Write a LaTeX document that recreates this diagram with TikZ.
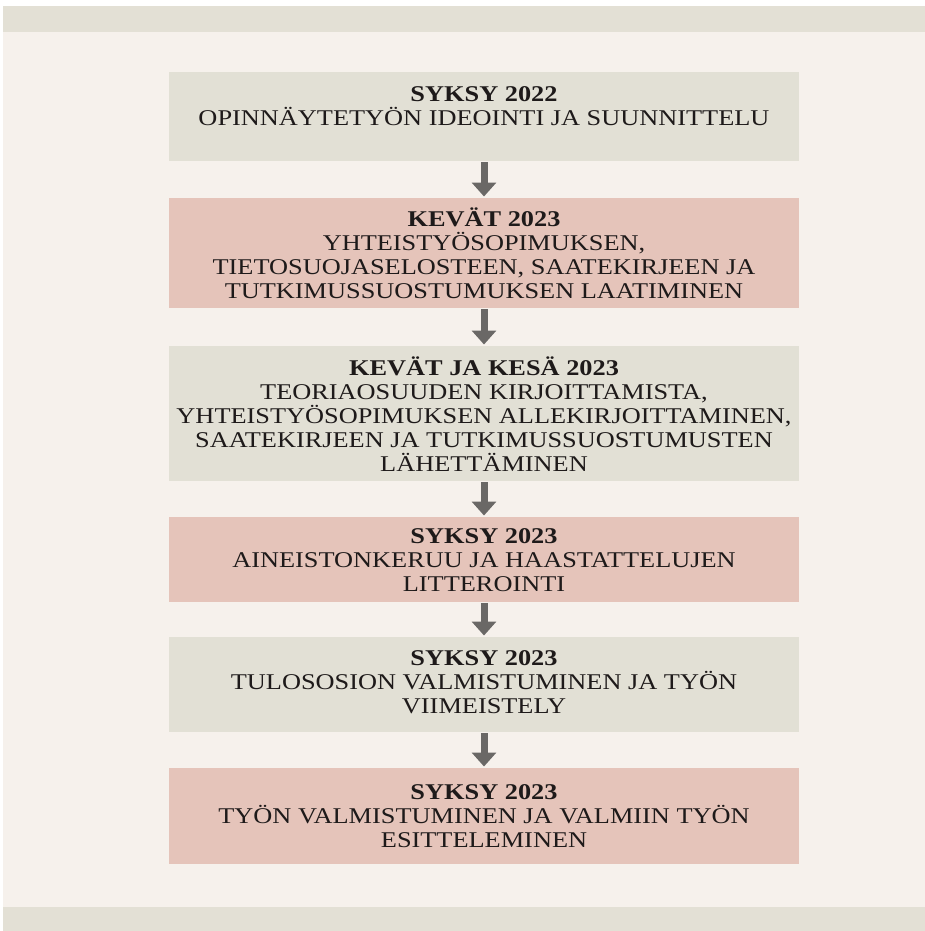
\documentclass[tikz,border=0pt]{standalone}
\usepackage{fontspec}
\setmainfont{Liberation Serif}[FakeStretch=1.17]
\usetikzlibrary{arrows.meta}
\definecolor{bgcol}{HTML}{F6F1EC}
\definecolor{bandcol}{HTML}{E3E0D5}
\definecolor{greycol}{HTML}{E2E0D5}
\definecolor{pinkcol}{HTML}{E5C4BA}
\definecolor{arrowcol}{HTML}{6A6866}
\definecolor{txtcol}{HTML}{1E1A1A}
\tikzset{
  stagebox/.style={draw=none, minimum width=630pt, inner sep=0pt, anchor=north},
  greybox/.style={stagebox, fill=greycol},
  pinkbox/.style={stagebox, fill=pinkcol},
  stagetext/.style={align=center, text=txtcol, inner sep=0pt,
    font=\fontsize{22.5}{24}\selectfont},
  flowarrow/.style={draw=arrowcol, line width=7pt,
    -{Triangle[width=24pt,length=14pt]}, shorten <=1pt, shorten >=1.5pt}
}
\begin{document}
\begin{tikzpicture}[x=1pt,y=-1pt]
\useasboundingbox (0,0) rectangle (925,931);
\fill[white] (0,0) rectangle (925,931);
\fill[bgcol] (3,6) rectangle (925,931);
\fill[bandcol] (3,6) rectangle (925,32);
\fill[bandcol] (3,907) rectangle (925,931);

\node[greybox, minimum height=89pt]  (b1) at (484,72)  {};
\node[pinkbox, minimum height=110pt] (b2) at (484,198) {};
\node[greybox, minimum height=135pt] (b3) at (484,346) {};
\node[pinkbox, minimum height=85pt]  (b4) at (484,517) {};
\node[greybox, minimum height=95pt]  (b5) at (484,637) {};
\node[pinkbox, minimum height=96pt]  (b6) at (484,768) {};

\node[stagetext] (t1) at ([yshift=11pt]b1.center) {\textbf{SYKSY 2022}\\OPINNÄYTETYÖN IDEOINTI JA SUUNNITTELU};
\node[stagetext] (t2) at (b2.center) {\textbf{KEVÄT 2023}\\YHTEISTYÖSOPIMUKSEN,\\TIETOSUOJASELOSTEEN, SAATEKIRJEEN JA\\TUTKIMUSSUOSTUMUKSEN LAATIMINEN};
\node[stagetext] (t3) at (b3.center) {\textbf{KEVÄT JA KESÄ 2023}\\TEORIAOSUUDEN KIRJOITTAMISTA,\\YHTEISTYÖSOPIMUKSEN ALLEKIRJOITTAMINEN,\\SAATEKIRJEEN JA TUTKIMUSSUOSTUMUSTEN\\LÄHETTÄMINEN};
\node[stagetext] (t4) at (b4.center) {\textbf{SYKSY 2023}\\AINEISTONKERUU JA HAASTATTELUJEN\\LITTEROINTI};
\node[stagetext] (t5) at ([yshift=3pt]b5.center) {\textbf{SYKSY 2023}\\TULOSOSION VALMISTUMINEN JA TYÖN\\VIIMEISTELY};
\node[stagetext] (t6) at (b6.center) {\textbf{SYKSY 2023}\\TYÖN VALMISTUMINEN JA VALMIIN TYÖN\\ESITTELEMINEN};

\draw[flowarrow] (b1.south) -- (b2.north);
\draw[flowarrow] (b2.south) -- (b3.north);
\draw[flowarrow] (b3.south) -- (b4.north);
\draw[flowarrow] (b4.south) -- (b5.north);
\draw[flowarrow] (b5.south) -- (b6.north);
\end{tikzpicture}
\end{document}
